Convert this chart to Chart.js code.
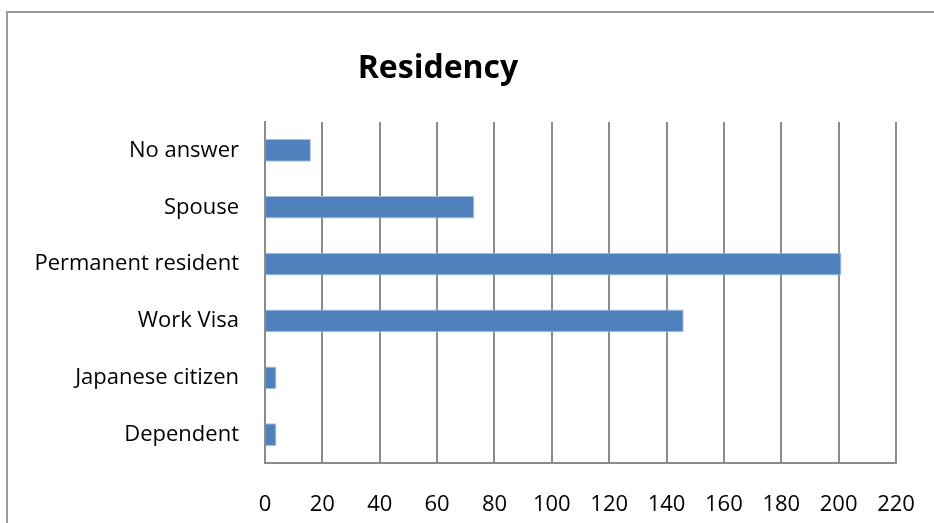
<!DOCTYPE html>
<html>
<head>
<meta charset="utf-8">
<title>Residency</title>
<script src="https://cdn.jsdelivr.net/npm/chart.js@4/dist/chart.umd.min.js"></script>
<style>
  html, body { margin: 0; padding: 0; background: #fff; overflow: hidden; }
  #frame {
    position: absolute; left: 6px; top: 11px;
    width: 1000px; height: 600px;
    border: 2px solid #9a9a9a; box-sizing: border-box;
  }
  #chart { position: absolute; left: 0; top: 0; }
</style>
</head>
<body>
<div id="frame"></div>
<canvas id="chart" width="934" height="523"></canvas>
<script>
// Residency status of respondents
const categories = ['No answer', 'Spouse', 'Permanent resident', 'Work Visa', 'Japanese citizen', 'Dependent'];
const counts = [16, 73, 201, 146, 4, 4];
const tickValues = [0, 20, 40, 60, 80, 100, 120, 140, 160, 180, 200, 220];
const chartTitle = 'Residency';

const FONT = "'Open Sans', 'DejaVu Sans', sans-serif";
const GRID = '#8c8c8c';

// Title drawn above the plot, slightly left of the canvas centre
const titlePlugin = {
  id: 'residencyTitle',
  afterDraw(chart) {
    const ctx = chart.ctx;
    ctx.save();
    ctx.font = "bold 32px " + FONT;
    ctx.fillStyle = '#000';
    ctx.textAlign = 'center';
    ctx.textBaseline = 'alphabetic';
    ctx.fillText(chartTitle, 438, 78);
    ctx.restore();
  }
};

new Chart(document.getElementById('chart'), {
  type: 'bar',
  data: {
    labels: categories,
    datasets: [{
      data: counts,
      backgroundColor: '#4f81bd',
      borderColor: '#a9c1e0',
      borderWidth: 1,
      barPercentage: 0.8,
      categoryPercentage: 0.5
    }]
  },
  options: {
    indexAxis: 'y',
    responsive: false,
    animation: false,
    layout: { padding: { top: 122, right: 38, bottom: 0, left: 0 } },
    plugins: {
      legend: { display: false },
      title: { display: false },
      tooltip: { enabled: false }
    },
    scales: {
      x: {
        min: 0,
        max: 220,
        afterBuildTicks(scale) {
          scale.ticks = tickValues.map(v => ({ value: v }));
        },
        afterFit(scale) {
          scale.height = 60;
          scale.paddingLeft = 0;
          scale.paddingRight = 0;
        },
        grid: { color: GRID, lineWidth: 2, drawTicks: false },
        border: { color: GRID, width: 2 },
        ticks: {
          color: '#000',
          padding: 29,
          maxRotation: 0,
          font: { family: FONT, size: 22 }
        }
      },
      y: {
        afterFit(scale) { scale.width = 265; },
        grid: { display: false, drawTicks: false },
        border: { color: GRID, width: 2 },
        ticks: {
          color: '#000',
          padding: 26,
          font: { family: FONT, size: 22 }
        }
      }
    }
  },
  plugins: [titlePlugin]
});
</script>
</body>
</html>
